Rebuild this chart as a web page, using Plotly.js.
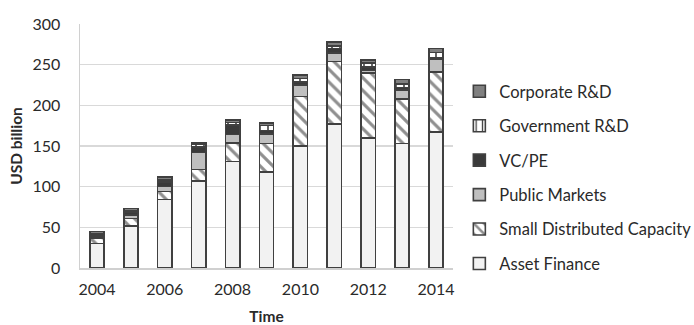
<!DOCTYPE html>
<html>
<head>
<meta charset="utf-8">
<script src="https://cdn.plot.ly/plotly-3.0.1.min.js"></script>
<style>html,body{margin:0;padding:0;background:#fff;}#chart{width:694px;height:325px;}</style>
</head>
<body>
<div id="chart"></div>
<script>
var years = [2004, 2005, 2006, 2007, 2008, 2009, 2010, 2011, 2012, 2013, 2014];
var assetFinance = [30, 52, 84, 107, 131, 118, 150, 177, 160, 153, 167];
var smallDistributed = [7, 9, 10, 14, 23, 35, 61, 77, 80, 55, 74];
var publicMarkets = [2, 4, 6, 21, 10, 12, 14, 10, 3, 11, 16];
var vcpe = [1, 3, 6, 7, 12, 4, 4, 6, 4, 3, 2];
var govRD = [2, 2, 2, 3, 3, 6, 4, 3, 5, 4, 6];
var corpRD = [3, 3, 4, 2, 3, 3, 4, 5, 4, 6, 5];
var seriesNames = ['Asset Finance', 'Small Distributed Capacity', 'Public Markets', 'VC/PE', 'Government R&D', 'Corporate R&D'];
var tickYears = [2004, 2006, 2008, 2010, 2012, 2014];

var outline = {color: '#404040', width: 1.6};
function tr(idx, vals, marker) {
  marker.line = outline;
  var name = seriesNames[idx];
  return {type: 'bar', x: years, y: vals, name: name, legendgroup: name, legendrank: 100 - idx,
          marker: marker, width: 0.42, hoverinfo: 'skip'};
}
var data = [
  tr(0, assetFinance, {color: '#f2f2f2'}),
  tr(1, smallDistributed, {color: '#ffffff', pattern: {shape: '\\', fgcolor: '#8f8f8f', bgcolor: '#ffffff', size: 9, solidity: 0.35}}),
  tr(2, publicMarkets, {color: '#bfbfbf'}),
  tr(3, vcpe, {color: '#3a3a3a'}),
  tr(4, govRD, {color: '#ffffff', pattern: {shape: '|', fgcolor: '#404040', bgcolor: '#ffffff', size: 8, solidity: 0.2}}),
  tr(5, corpRD, {color: '#808080'})
];

var layout = {
  width: 694, height: 325,
  margin: {l: 80, r: 241, t: 24, b: 57, autoexpand: false},
  barmode: 'stack',
  paper_bgcolor: '#ffffff', plot_bgcolor: '#ffffff',
  font: {family: 'Lato, "Open Sans", sans-serif', size: 16, color: '#2a2a2a'},
  xaxis: {
    range: [2003.5, 2014.5], tickvals: tickYears, ticktext: tickYears.map(String),
    showgrid: false, zeroline: false, showline: true, linecolor: '#d0d0d0', linewidth: 1.5,
    ticks: '', ticklabelstandoff: 6,
    title: {text: '<b>Time</b>', font: {size: 15.5, color: '#2a2a2a'}, standoff: 15}
  },
  yaxis: {
    range: [0, 300], tickvals: [0, 50, 100, 150, 200, 250, 300],
    showgrid: true, gridcolor: '#d9d9d9', gridwidth: 1.5, zeroline: false,
    showline: true, linecolor: '#d0d0d0', linewidth: 1.5,
    ticks: '', ticklabelstandoff: 15,
    title: {text: '<b>USD billion</b>', font: {size: 15.5, color: '#2a2a2a'}, standoff: 6}
  },
  showlegend: true,
  legend: {
    x: 1.017, xanchor: 'left', y: 0.795, yanchor: 'top',
    traceorder: 'grouped', tracegroupgap: 10,
    font: {size: 16.5, color: '#2a2a2a'}, bgcolor: 'rgba(0,0,0,0)'
  }
};
Plotly.newPlot('chart', data, layout, {displayModeBar: false, staticPlot: true});
</script>
</body>
</html>
